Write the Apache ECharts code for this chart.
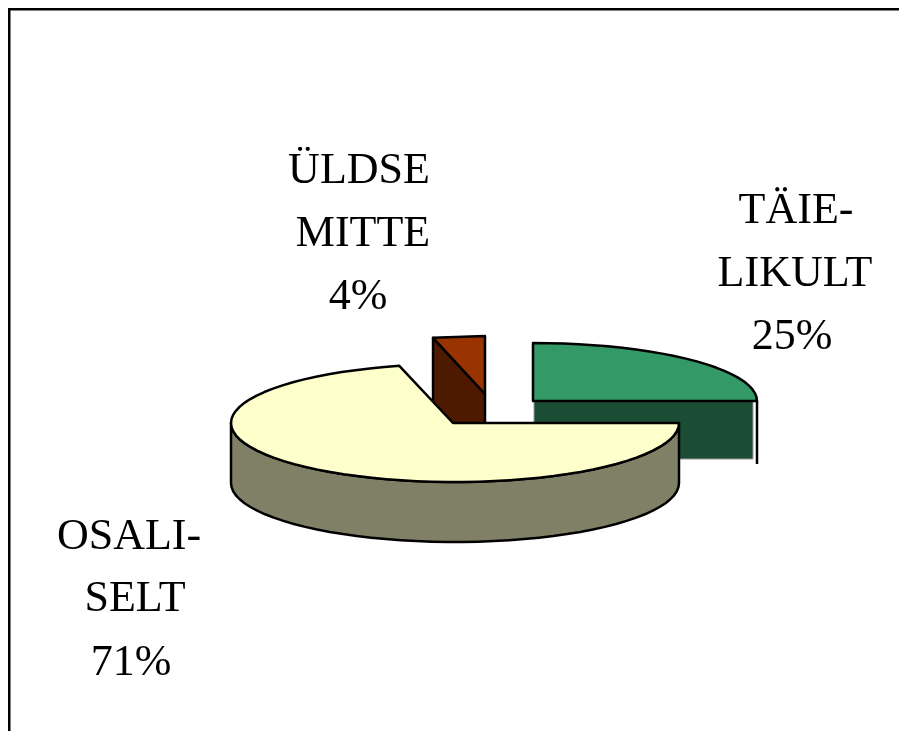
<!DOCTYPE html>
<html>
<head>
<meta charset="utf-8">
<style>html,body{margin:0;padding:0;background:#fff}#c{width:899px;height:731px}</style>
<script src="https://cdn.jsdelivr.net/npm/echarts@6/dist/echarts.min.js"></script>
</head>
<body>
<div id="c"></div>
<script>
// ---- data ----
var categories = [['TÄIE-', 'LIKULT'], ['OSALI-', 'SELT'], ['ÜLDSE', 'MITTE']];
var values = [25, 71, 4];
var topColors = ['#339966', '#FFFFCC', '#993300'];
var sideColors = ['#1A4D33', '#808066', '#4D1A00'];

// ---- layout (clockwise from north, slices in data order) ----
var drawOrder = [0, 2, 1];
var apexes = [[533, 401], [453, 423], [485, 394]];
var ovalCenters = [[533, 401], [455, 423], [485, 394]];
var radiusX = [224, 224, 209];
var radiusY = [58, 59, 58];
var depths = [60, 60, 66];
var labelX = [[796, 795, 792], [129, 135, 131], [359, 363, 358]];
var labelBase = [[224, 287, 350], [550, 612, 676], [184, 247, 310]];
var fontSize = 44;
var baseShift = 13;
var strokeW = 2.5;

var total = values.reduce(function (a, b) { return a + b; }, 0);
var starts = [], acc = 0;
values.forEach(function (v) { starts.push(acc); acc += v / total * 360; });

function pt(i, deg, dy) {
  var r = deg * Math.PI / 180;
  return [ovalCenters[i][0] + radiusX[i] * Math.sin(r), ovalCenters[i][1] - radiusY[i] * Math.cos(r) + (dy || 0)];
}
function arc(i, a0, a1, dy) {
  var sweep = Math.abs(a1 - a0);
  var n = sweep < 20 ? 1 : Math.round(sweep / 4);
  var out = [];
  for (var k = 0; k <= n; k++) out.push(pt(i, a0 + (a1 - a0) * k / n, dy));
  return out;
}
function poly(points, fill, stroke, width) {
  return { type: 'polygon', shape: { points: points },
    style: { fill: fill, stroke: stroke || 'none', lineWidth: width === undefined ? strokeW : width, lineJoin: 'round' } };
}
function line(a, b) {
  return { type: 'line', shape: { x1: a[0], y1: a[1], x2: b[0], y2: b[1] },
    style: { stroke: '#000', lineWidth: strokeW, fill: 'none' } };
}

function renderSlice(params, api) {
  var i = api.value(0);
  var a0 = starts[i], a1 = a0 + values[i] / total * 360;
  var c = apexes[i];
  var depth = depths[i];
  var children = [];
  var top = [c].concat(arc(i, a0, a1));

  if (i === 0) {
    // cut face towards the viewer, with the end line standing clear of it
    var e = pt(i, a1);
    children.push(poly([[c[0] + 1, c[1]], [e[0] - 4, e[1]], [e[0] - 4, e[1] + depth - 2], [c[0] + 1, c[1] + depth - 2]], sideColors[i], '#999', 1));
    children.push(line([e[0], e[1]], [e[0], e[1] + depth + 3]));
  } else if (i === 2) {
    // left cut face
    var w = pt(i, a0);
    children.push(poly([w, c, [c[0], c[1] + depth], [w[0], w[1] + depth]], sideColors[i], '#000'));
  } else {
    // round outer wall: only the part facing the viewer
    var f = arc(i, Math.max(a0, 90), Math.min(a1, 270));
    var b = arc(i, Math.min(a1, 270), Math.max(a0, 90), depth);
    children.push(poly(f.concat(b), sideColors[i], '#000'));
  }
  children.push(poly(top, topColors[i], '#000'));

  var labelLines = categories[i].concat([values[i] + '%']);
  labelLines.forEach(function (t, k) {
    children.push({ type: 'text', z2: 10, style: {
      text: t, x: labelX[i][k], y: labelBase[i][k] - baseShift,
      align: 'center', verticalAlign: 'middle',
      font: fontSize + 'px "Liberation Serif"', fill: '#000' } });
  });
  return { type: 'group', children: children };
}

var chart = echarts.init(document.getElementById('c'), null, { renderer: 'canvas' });
chart.setOption({
  animation: false,
  backgroundColor: '#fff',
  graphic: [{ type: 'polyline', silent: true,
    shape: { points: [[9.25, 731], [9.25, 9.25], [899, 9.25]] },
    style: { stroke: '#000', lineWidth: 2.5, fill: 'none' } }],
  series: [{
    type: 'custom',
    coordinateSystem: 'none',
    silent: true,
    clip: false,
    renderItem: renderSlice,
    data: drawOrder.map(function (i) { return [i]; })
  }]
});
</script>
</body>
</html>
